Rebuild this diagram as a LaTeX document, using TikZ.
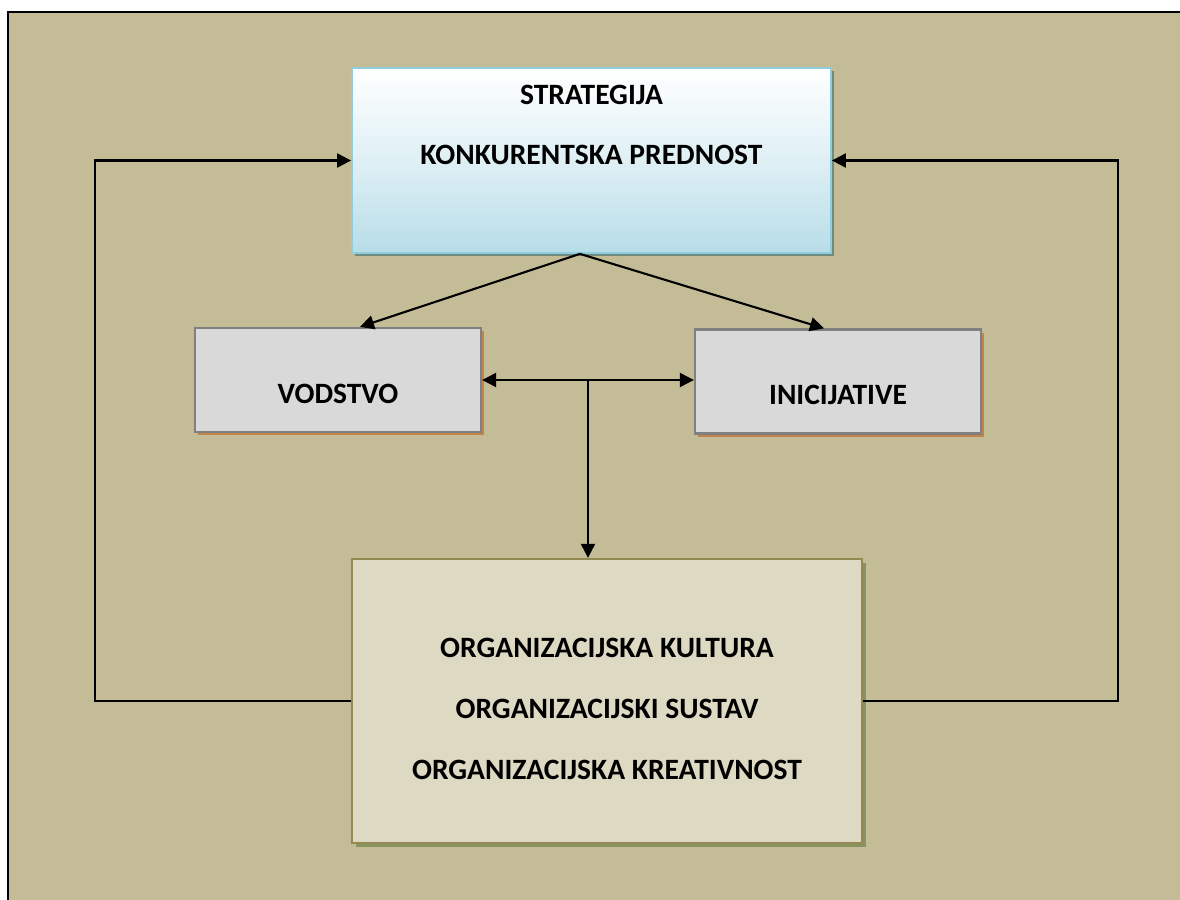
\documentclass[tikz,border=0pt]{standalone}
\usepackage{fontspec}
\setmainfont{Carlito}
\usetikzlibrary{arrows.meta,positioning,shadows}
\definecolor{Page}{HTML}{C4BC96}
\definecolor{SkyEdge}{HTML}{92CDDC}
\definecolor{Sky}{HTML}{B7DDE8}
\definecolor{SkyShade}{HTML}{6E8C80}
\definecolor{Grey}{HTML}{D9D9D9}
\definecolor{GreyEdge}{HTML}{808080}
\definecolor{GreyShade}{HTML}{C0834C}
\definecolor{Sand}{HTML}{DDD9C3}
\definecolor{SandEdge}{HTML}{938953}
\definecolor{SandShade}{HTML}{8A9260}

\begin{document}
\begin{tikzpicture}[x=0.025cm,y=-0.025cm,
        b/.style={rectangle,inner sep=0pt,font=\bfseries\fontsize{21}{42.7}\selectfont},
        sky/.style={b,draw=SkyEdge,line width=1.2pt,top color=white,bottom color=Sky,middle color=Sky!45,
          general shadow={fill=SkyShade,shadow xshift=.08cm,shadow yshift=-.08cm},
          minimum width=11.975cm,minimum height=4.625cm},
        grey/.style={b,draw=GreyEdge,line width=1.6pt,fill=Grey,
          general shadow={fill=GreyShade,shadow xshift=.08cm,shadow yshift=-.08cm},
          minimum width=7.15cm,minimum height=2.6cm},
        sand/.style={b,draw=SandEdge,line width=1.6pt,fill=Sand,
          general shadow={fill=SandShade,shadow xshift=.1cm,shadow yshift=-.1cm},
          minimum width=12.75cm,minimum height=7.1cm},
        a/.style={-{Triangle[length=3.5mm,width=3.5mm]},line width=1.5pt},
        aa/.style={{Triangle[length=3.5mm,width=3.5mm]}-{Triangle[length=3.5mm,width=3.5mm]},line width=1.5pt}]
        \useasboundingbox (0,0) rectangle (1180,900);
        \fill[Page] (8,12) rectangle (1180,900);
        \draw[line width=1.1pt] (8,900) -- (8,12) -- (1180,12);
        % boxes
        \node[sky] (s) at (591.5,160.5) {\raisebox{.76cm}[0pt][0pt]{\begin{tabular}{@{}c@{}}STRATEGIJA\\KONKURENTSKA PREDNOST\end{tabular}}};
        \node[grey] (v) at (338,380) {\raisebox{-.59cm}[0pt][0pt]{VODSTVO}};
        \node[grey] (i) at (838,381.5) {\raisebox{-.575cm}[0pt][0pt]{INICIJATIVE}};
        \node[sand] (o) at (607,701) {\raisebox{-.31cm}[0pt][0pt]{\fontsize{21}{43.4}\selectfont\begin{tabular}{@{}c@{}}ORGANIZACIJSKA KULTURA\\ORGANIZACIJSKI SUSTAV\\ORGANIZACIJSKA KREATIVNOST\end{tabular}}};
        \coordinate (hub) at (588,380);
        \coordinate (lx) at (95,0);
        \coordinate (rx) at (1118,0);
        % connectors
        \draw[a] ([xshift=-.29cm]s.south) -- ([xshift=.55cm]v.north);
        \draw[a] ([xshift=-.29cm]s.south) -- ([xshift=-.35cm]i.north);
        \draw[aa] (v.east |- hub) -- (i.west |- hub);
        \draw[a] (hub) -- (o.north -| hub);
        \draw[a] (o.west) -| (lx |- s.west) -- (s.west);
        \draw[a] (o.east) -| (rx |- s.east) -- (s.east);
\end{tikzpicture}
\end{document}
